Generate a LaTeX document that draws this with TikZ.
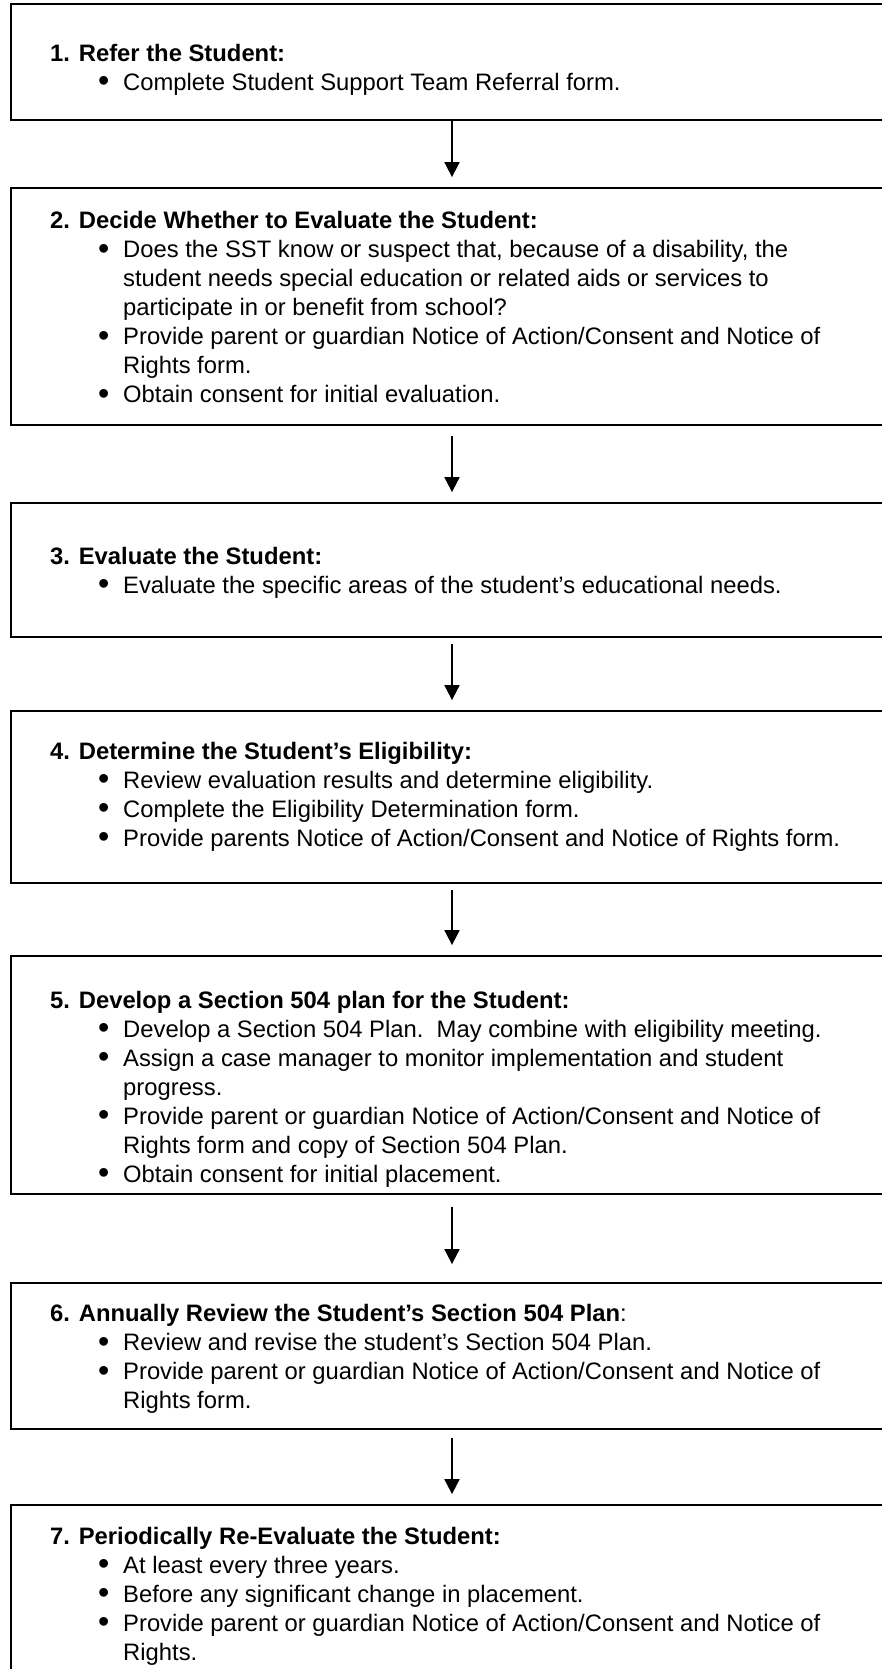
\documentclass[tikz,border=0pt]{standalone}
\usepackage{fontspec}
\setmainfont{Liberation Sans}
\usetikzlibrary{arrows.meta}

% one bulleted point, continuation lines hang under the text
\newcommand{\sstitem}[1]{\par\hangindent=73pt\hangafter=1\hspace*{48pt}\makebox[25pt][l]{\raisebox{-1.5pt}{\scalebox{1.35}{\textbullet}}}#1}

\begin{document}
\begin{tikzpicture}[x=1pt,y=-1pt,
  stepbox/.style={draw, line width=1.8pt, minimum width=882pt, inner sep=0pt},
  steptext/.style={anchor=base west, inner sep=0pt, font=\fontsize{23.8}{29}\selectfont},
  flow/.style={line width=1.8pt, -{Triangle[width=15pt,length=15pt]}}]
\fill[white] (0,0) rectangle (882,1669);
\useasboundingbox (0,0) rectangle (882,1669);

% the seven boxes
\node[stepbox, minimum height=116] (b1) at (452,62) {};
\node[stepbox, minimum height=237] (b2) at (452,306.5) {};
\node[stepbox, minimum height=134] (b3) at (452,570) {};
\node[stepbox, minimum height=172] (b4) at (452,797) {};
\node[stepbox, minimum height=238] (b5) at (452,1075) {};
\node[stepbox, minimum height=146] (b6) at (452,1356) {};
\node[stepbox, minimum height=180] (b7) at (452,1595) {};

% texts
\node[steptext] (t1) at (50,61.5) {\parbox[t]{850pt}{\textbf{1. Refer the Student:}
  \sstitem{Complete Student Support Team Referral form.}}};
\node[steptext] (t2) at (50,229) {\parbox[t]{850pt}{\textbf{2. Decide Whether to Evaluate the Student:}
  \sstitem{Does the SST know or suspect that, because of a disability, the\newline student needs special education or related aids or services to\newline participate in or benefit from school?}
  \sstitem{Provide parent or guardian Notice of Action/Consent and Notice of\newline Rights form.}
  \sstitem{Obtain consent for initial evaluation.}}};
\node[steptext] (t3) at (50,564) {\parbox[t]{850pt}{\textbf{3. Evaluate the Student:}
  \sstitem{Evaluate the specific areas of the student’s educational needs.}}};
\node[steptext] (t4) at (50,759) {\parbox[t]{850pt}{\textbf{4. Determine the Student’s Eligibility:}
  \sstitem{Review evaluation results and determine eligibility.}
  \sstitem{Complete the Eligibility Determination form.}
  \sstitem{Provide parents Notice of Action/Consent and Notice of Rights form.}}};
\node[steptext] (t5) at (50,1008) {\parbox[t]{850pt}{\textbf{5. Develop a Section 504 plan for the Student:}
  \sstitem{Develop a Section 504 Plan.\ \ May combine with eligibility meeting.}
  \sstitem{Assign a case manager to monitor implementation and student\newline progress.}
  \sstitem{Provide parent or guardian Notice of Action/Consent and Notice of\newline Rights form and copy of Section 504 Plan.}
  \sstitem{Obtain consent for initial placement.}}};
\node[steptext] (t6) at (50,1321.5) {\parbox[t]{850pt}{\textbf{6. Annually Review the Student’s Section 504 Plan}:
  \sstitem{Review and revise the student’s Section 504 Plan.}
  \sstitem{Provide parent or guardian Notice of Action/Consent and Notice of\newline Rights form.}}};
\node[steptext] (t7) at (50,1544) {\parbox[t]{850pt}{\textbf{7. Periodically Re-Evaluate the Student:}
  \sstitem{At least every three years.}
  \sstitem{Before any significant change in placement.}
  \sstitem{Provide parent or guardian Notice of Action/Consent and Notice of\newline Rights.}}};

% arrows between the steps
\draw[flow] (b1.south) -- ([yshift=10pt]b2.north);
\draw[flow] ([yshift=-10pt]b2.south) -- ([yshift=10pt]b3.north);
\draw[flow] ([yshift=-6pt]b3.south) -- ([yshift=10pt]b4.north);
\draw[flow] ([yshift=-6pt]b4.south) -- ([yshift=10pt]b5.north);
\draw[flow] ([yshift=-12pt]b5.south) -- ([yshift=18pt]b6.north);
\draw[flow] ([yshift=-8pt]b6.south) -- ([yshift=10pt]b7.north);
\end{tikzpicture}
\end{document}
